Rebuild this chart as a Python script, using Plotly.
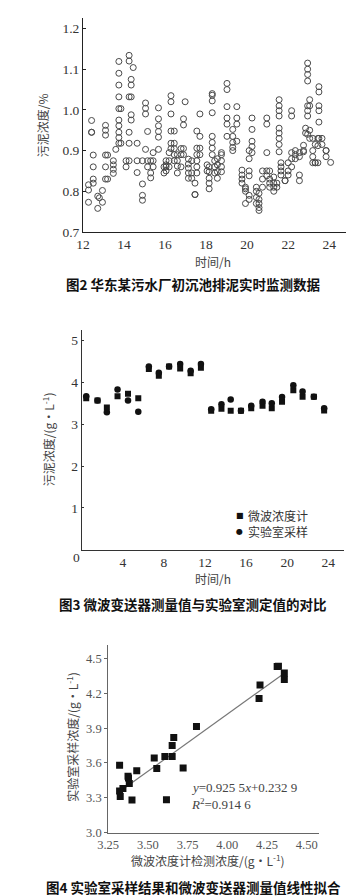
import plotly.graph_objects as go

W, H = 356, 896
def fx(px): return px / W
def fy(px): return 1 - px / H

# ---------------- Fig.2 data: real-time monitoring (time h, concentration %) ----------------
col_times = [12.27, 12.42, 12.5, 12.72, 12.8, 12.95, 13.1, 13.2, 13.48, 13.6, 13.75, 13.85,
             14.1, 14.25, 14.35, 14.45, 14.64, 14.9, 15.05, 15.15, 15.3, 15.42, 15.68, 15.95,
             16.05, 16.2, 16.29, 16.45, 16.6, 16.78, 16.9, 16.98, 17.14, 17.3, 17.46, 17.55,
             17.7, 18.05, 18.15, 18.3, 18.42, 18.55, 18.75, 19.02, 19.3, 19.5, 19.75, 19.92,
             20.1, 20.24, 20.45, 20.58, 20.75, 20.96, 21.1, 21.3, 21.45, 21.56, 21.65, 21.85,
             22.0, 22.17, 22.35, 22.55, 22.75, 22.85, 22.95, 23.05, 23.2, 23.32, 23.45, 23.5,
             23.65, 23.85, 24.07]
col_values = [
    [0.816, 0.803, 0.773], [0.974, 0.945, 0.945], [0.889, 0.860, 0.830, 0.820], [0.788, 0.758],
    [0.784], [0.802, 0.773], [0.962, 0.950, 0.938, 0.889, 0.860, 0.830], [0.889, 0.830],
    [0.875, 0.865, 0.854, 0.844], [0.903],
    [1.061, 1.032, 1.003, 0.975, 0.961, 0.945, 0.932, 0.918, 1.119, 1.090], [1.003, 0.918],
    [0.875, 0.860], [1.134, 1.120, 1.032, 0.918, 0.945, 0.875], [1.075, 1.061, 1.032, 0.988, 0.975],
    [1.104], [0.918, 0.875, 0.846], [0.790, 0.778, 0.818, 0.875], [1.017, 1.004, 0.990, 0.903],
    [0.947, 0.875, 0.860], [0.875, 0.845, 0.833], [0.875, 0.860, 0.895],
    [1.005, 0.978, 0.961, 0.947, 0.933, 0.903], [0.860, 0.845],
    [0.865, 0.860, 0.875, 0.850], [0.860, 0.875, 0.895], [1.035, 1.020, 0.990, 0.948, 0.918, 0.905],
    [0.948, 0.918, 0.905, 0.890, 0.875], [0.890, 0.875, 0.862, 0.845], [0.905, 0.890, 0.860],
    [0.978, 0.963, 0.905, 0.890], [1.020], [0.879, 0.867, 0.857, 0.845, 0.832],
    [0.875, 0.845, 0.832], [0.792, 0.792, 0.820], [0.948, 0.906, 0.890, 0.875, 0.860, 0.845],
    [0.990, 0.935, 0.906, 0.890], [0.865, 0.850], [0.860, 0.848, 0.832, 0.820, 0.806],
    [1.040, 1.036, 1.022, 0.993, 0.935, 0.920, 0.906, 0.890], [0.875, 0.860, 0.845],
    [0.880, 0.865, 0.848, 0.832], [0.895, 0.890, 0.875, 0.860, 0.848],
    [1.065, 1.050, 1.008, 0.980, 0.965, 0.935], [0.935, 0.920, 0.908, 0.952, 0.900],
    [1.008, 0.980, 0.965, 0.923], [0.852, 0.840, 0.830, 0.820], [0.810, 0.800, 0.770, 0.806],
    [0.900, 0.880, 0.850, 0.838, 0.790, 0.780], [0.980, 0.952, 0.923, 0.910, 0.895],
    [0.800, 0.810, 0.770, 0.785], [0.770, 0.760, 0.753, 0.780, 0.795], [0.810, 0.830, 0.850],
    [0.980, 0.965, 0.895, 0.850, 0.838], [0.820, 0.810, 0.830, 0.850], [0.820, 0.800, 0.810, 0.835],
    [0.810, 0.820], [1.025, 1.010, 0.998, 0.985, 0.955, 0.943, 0.930, 0.915, 0.897],
    [0.870, 0.860, 0.850, 0.840], [0.826, 0.826], [0.840, 0.850, 0.870],
    [0.998, 0.985, 0.895, 0.880, 0.860], [0.890, 0.880, 0.900], [0.840, 0.826, 0.895, 0.885],
    [0.897, 0.913, 0.900], [0.955, 0.943],
    [1.115, 1.100, 1.087, 1.071, 1.010, 0.998, 0.985, 0.940], [1.025, 1.010, 0.950, 0.930],
    [0.930, 0.900, 0.885, 0.870], [0.915, 0.870, 0.870], [0.930, 0.912, 0.870],
    [1.057, 1.044, 1.010, 0.998, 0.970, 0.930], [0.930, 0.915], [0.900, 0.900, 0.885], [0.871]]

time_h = []
conc_pct = []
for t, vals in zip(col_times, col_values):
    for v in vals:
        time_h.append(t)
        conc_pct.append(v)

# ---------------- Fig.3 data: microwave vs lab over time ----------------
times2 = [0.43, 1.53, 2.44, 3.48, 4.5, 5.5, 6.53, 7.5, 8.5, 9.58, 10.6, 11.6,
          12.6, 13.6, 14.5, 15.5, 16.5, 17.6, 18.5, 19.5, 20.6, 21.5, 22.6, 23.6]
microwave = [3.62, 3.57, 3.40, 3.67, 3.73, 3.62, 4.32, 4.16, 4.38, 4.33, 4.22, 4.35,
             3.32, 3.37, 3.32, 3.32, 3.38, 3.44, 3.38, 3.54, 3.81, 3.66, 3.66, 3.33]
lab = [3.67, 3.57, 3.29, 3.83, 3.57, 3.30, 4.38, 4.23, 4.38, 4.44, 4.28, 4.44,
       3.36, 3.48, 3.59, 3.32, 3.44, 3.54, 3.50, 3.65, 3.93, 3.78, 3.66, 3.38]

# ---------------- Fig.4 data: linear fit ----------------
fit_x = [3.322, 3.430, 3.375, 3.378, 3.383, 3.343, 3.322, 3.326, 3.400, 3.617, 3.540, 3.556,
         3.607, 3.653, 3.653, 3.663, 3.722, 3.806, 4.200, 4.206, 4.314, 4.322, 4.359, 4.359]
fit_y = [3.580, 3.534, 3.486, 3.470, 3.424, 3.380, 3.358, 3.310, 3.280, 3.284, 3.642, 3.553,
         3.656, 3.656, 3.750, 3.820, 3.557, 3.915, 4.157, 4.273, 4.432, 4.435, 4.375, 4.319]
trend_x = [3.36, 4.37]
trend_y = [3.39, 4.385]

SERIF = "Liberation Serif"
CJK = "Noto Sans CJK SC"

fig = go.Figure()

fig.add_trace(go.Scatter(
    x=time_h, y=conc_pct, mode="markers", xaxis="x", yaxis="y", showlegend=False,
    marker=dict(symbol="circle-open", size=6, color="#4a4a4a", line=dict(width=1, color="#4a4a4a"))))

fig.add_trace(go.Scatter(
    x=times2, y=microwave, mode="markers", xaxis="x2", yaxis="y2", name="微波浓度计", showlegend=False,
    marker=dict(symbol="square", size=6, color="#111111")))
fig.add_trace(go.Scatter(
    x=times2, y=lab, mode="markers", xaxis="x2", yaxis="y2", name="实验室采样", showlegend=False,
    marker=dict(symbol="circle", size=6.5, color="#111111")))

fig.add_trace(go.Scatter(
    x=trend_x, y=trend_y, mode="lines", xaxis="x3", yaxis="y3", showlegend=False,
    line=dict(color="#777777", width=1.2)))
fig.add_trace(go.Scatter(
    x=fit_x, y=fit_y, mode="markers", xaxis="x3", yaxis="y3", showlegend=False,
    marker=dict(symbol="square", size=7, color="#111111")))

def axis_common(color, tickcolor, size):
    return dict(showgrid=False, zeroline=False, showline=True, linecolor=color, linewidth=1,
                tickfont=dict(family=SERIF, size=size, color=tickcolor), fixedrange=True)

fig.update_layout(
    width=W, height=H, margin=dict(l=0, r=0, t=0, b=0),
    paper_bgcolor="white", plot_bgcolor="white",
    xaxis=dict(domain=[fx(66), fx(337)], range=[12, 24.8], anchor="y",
               tickvals=[12, 14, 16, 18, 20, 22, 24], ticks="", **axis_common("#222", "#333", 13.5)),
    yaxis=dict(domain=[fy(226), fy(10)], range=[0.7, 1.226], anchor="x",
               tickvals=[0.7, 0.8, 0.9, 1.0, 1.1, 1.2], ticktext=["0.7", "0.8", "0.9", "1.0", "1.1", "1.2"],
               ticks="inside", ticklen=3, tickcolor="#222", **axis_common("#222", "#333", 13.5)),
    xaxis2=dict(domain=[fx(64.8), fx(335)], range=[0, 25.5], anchor="y2",
                tickvals=[4, 8, 12, 16, 20, 24], ticks="", **axis_common("#333", "#333", 13.5)),
    yaxis2=dict(domain=[fy(546.7), fy(325)], range=[0, 5.25], anchor="x2",
                tickvals=[1, 2, 3, 4, 5], ticks="inside", ticklen=2, tickcolor="#333",
                **axis_common("#333", "#333", 13.5)),
    xaxis3=dict(domain=[fx(92), fx(310)], range=[3.25, 4.58], anchor="y3",
                tickvals=[3.25, 3.5, 3.75, 4.0, 4.25, 4.5],
                ticktext=["3.25", "3.50", "3.75", "4.00", "4.25", "4.50"], ticks="",
                **axis_common("#666", "#555", 12.5)),
    yaxis3=dict(domain=[fy(832), fy(643)], range=[3.0, 4.615], anchor="x3",
                tickvals=[3.0, 3.3, 3.6, 3.9, 4.2, 4.5],
                ticktext=["3.0", "3.3", "3.6", "3.9", "4.2", "4.5"],
                ticks="outside", ticklen=3, tickcolor="#666", **axis_common("#666", "#555", 12.5)),
)

def ann(text, xpx, ypx, size=12, color="#444", family=CJK, angle=0, xanchor="center", bold=False):
    if bold:
        text = "<b>" + text + "</b>"
    fig.add_annotation(text=text, x=fx(xpx), y=fy(ypx), xref="paper", yref="paper",
                       showarrow=False, xanchor=xanchor, yanchor="middle", textangle=angle,
                       font=dict(family=family, size=size, color=color))

# Fig.2 texts
ann("污泥浓度/%", 25, 118, size=12, angle=-90)
ann("时间/h", 200, 256, size=12)
ann("图2 华东某污水厂初沉池排泥实时监测数据", 180, 278, size=13.5, color="#111", bold=True)

# Fig.3 texts
ann("污泥浓度/(g·L<sup>-1</sup>)", 30, 435, size=12, angle=-90)
ann("时间/h", 200, 576, size=12)
ann("0", 59, 554, size=13.5, color="#333", family=SERIF)
ann("■", 228, 512, size=8, color="#111", family="DejaVu Sans")
ann("微波浓度计", 234, 512, size=12, color="#333", xanchor="left")
ann("●", 228, 528, size=8, color="#111", family="DejaVu Sans")
ann("实验室采样", 234, 528, size=12, color="#333", xanchor="left")
ann("图3 微波变送器测量值与实验室测定值的对比", 180, 601, size=13.5, color="#111", bold=True)

# Fig.4 texts
ann("实验室采样浓度/(g·L<sup>-1</sup>)", 55, 735, size=12, angle=-90)
ann("微波浓度计检测浓度/(g·L<sup>-1</sup>)", 195, 860, size=12)
ann("<i>y</i>=0.925 5<i>x</i>+0.232 9", 175, 787, size=13, color="#444", family=SERIF, xanchor="left")
ann("<i>R</i><sup>2</sup>=0.914 6", 175, 803, size=13, color="#444", family=SERIF, xanchor="left")
ann("图4 实验室采样结果和微波变送器测量值线性拟合", 180, 887, size=13.5, color="#111", bold=True)

fig.write_html("out.html")
